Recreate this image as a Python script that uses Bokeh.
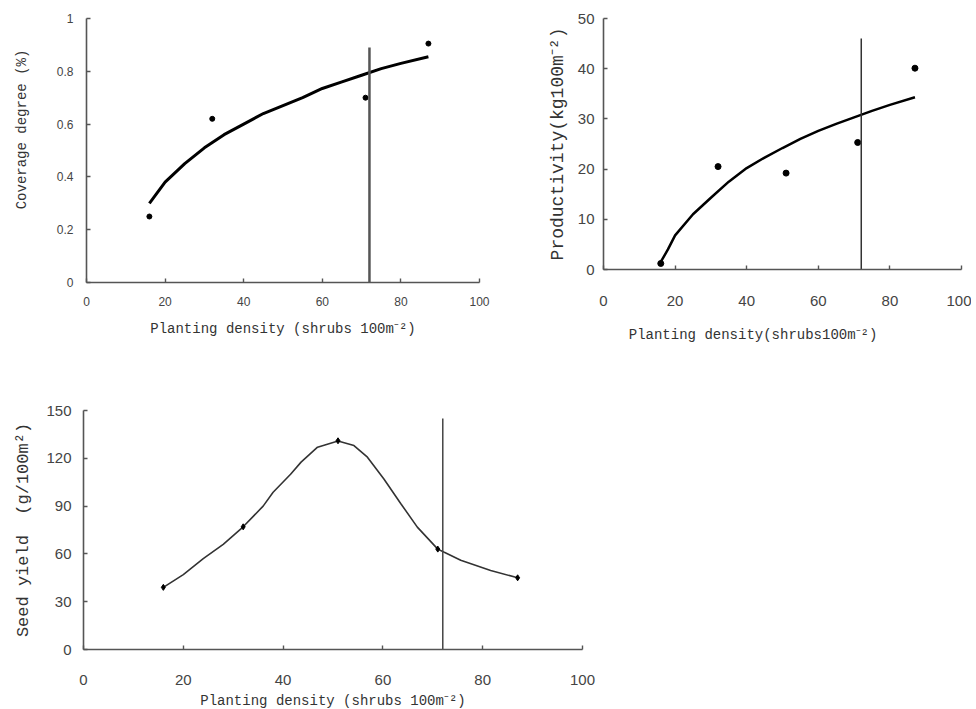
from bokeh.plotting import figure
from bokeh.layouts import row, column
from bokeh.models import Range1d, FixedTicker
from bokeh.embed import file_html
from bokeh.resources import INLINE

# ---------------- data ----------------
density_ticks = [0, 20, 40, 60, 80, 100]
optimum_density = 72

# Panel 1: coverage degree
cov_x = [16, 32, 71, 87]
cov_y = [0.25, 0.62, 0.70, 0.905]
cov_fit_x = [16, 20, 25, 30, 35, 40, 45, 50, 55, 60, 65, 70, 75, 80, 87]
cov_fit_y = [0.30, 0.38, 0.45, 0.51, 0.56, 0.60, 0.64, 0.67, 0.70, 0.735, 0.76, 0.785, 0.81, 0.83, 0.855]
cov_ticks = [0, 0.2, 0.4, 0.6, 0.8, 1]
cov_labels = {0: "0", 0.2: "0.2", 0.4: "0.4", 0.6: "0.6", 0.8: "0.8", 1: "1"}
cov_vline_top = 0.89

# Panel 2: productivity
prod_x = [16, 32, 51, 71, 87]
prod_y = [1.2, 20.5, 19.2, 25.3, 40.1]
prod_fit_x = [16, 18, 20, 25, 30, 35, 40, 45, 50, 55, 60, 65, 70, 75, 80, 87]
prod_fit_y = [1.5, 4.0, 6.8, 11.0, 14.3, 17.5, 20.2, 22.3, 24.2, 26.0, 27.6, 29.0, 30.3, 31.6, 32.8, 34.3]
prod_ticks = [0, 10, 20, 30, 40, 50]
prod_vline_top = 46

# Panel 3: seed yield
seed_x = [16, 32, 51, 71, 87]
seed_y = [39, 77, 131, 63, 45]
seed_curve_x = [16, 20, 24, 28, 32, 36, 38, 41.5, 43.6, 46.9, 51, 54.2, 56.9, 60.2, 63.6, 66.9, 71, 72.3, 75.6, 81.6, 87]
seed_curve_y = [39, 47, 57, 66, 77, 90, 98.7, 110, 117.6, 127, 130.8, 128, 120.7, 107, 91.5, 76.8, 63, 61, 56, 49.6, 45]
seed_ticks = [0, 30, 60, 90, 120, 150]
seed_vline_top = 145

NB = "\u00a0"
TICK_FONT = "Liberation Sans"
TITLE_FONT = "Liberation Mono"


def make_fig(fw, fh, borders, yrange, yticks, tick_size, xlab, ylab,
             xlab_size, ylab_size, x_std, x_lab_std, y_std, y_lab_std):
    l, r, t, b = borders
    p = figure(frame_width=fw, frame_height=fh, output_backend="svg",
               toolbar_location=None, x_range=Range1d(0, 100),
               y_range=Range1d(*yrange),
               min_border_left=l, min_border_right=r,
               min_border_top=t, min_border_bottom=b)
    p.outline_line_color = None
    p.grid.visible = False
    p.background_fill_color = "white"
    p.border_fill_color = "white"
    p.xaxis.ticker = FixedTicker(ticks=density_ticks)
    p.yaxis.ticker = FixedTicker(ticks=yticks)
    for ax in (p.xaxis, p.yaxis):
        ax.axis_line_color = "#555555"
        ax.axis_line_width = 1.6
        ax.major_tick_line_color = "#555555"
        ax.major_tick_line_width = 1.4
        ax.major_tick_in = 4
        ax.major_tick_out = 0
        ax.minor_tick_line_color = None
        ax.major_label_text_font = TICK_FONT
        ax.major_label_text_font_size = f"{tick_size}px"
        ax.major_label_text_color = "#444444"
        ax.axis_label_text_font = TITLE_FONT
        ax.axis_label_text_font_style = "normal"
        ax.axis_label_text_color = "#333333"
    p.xaxis.axis_label = xlab
    p.yaxis.axis_label = ylab
    p.xaxis.axis_label_text_font_size = f"{xlab_size}px"
    p.yaxis.axis_label_text_font_size = f"{ylab_size}px"
    p.xaxis.major_label_standoff = x_std
    p.xaxis.axis_label_standoff = x_lab_std
    p.yaxis.major_label_standoff = y_std
    p.yaxis.axis_label_standoff = y_lab_std
    return p


# Panel 1
p1 = make_fig(393, 264, (86, 25, 18, 78), (0, 1), cov_ticks, 12,
              "Planting density (shrubs 100m\u207b\u00b2)",
              NB * 5 + "Coverage degree (%)", 14, 14, 14, 12, 13, 24)
p1.yaxis.major_label_overrides = cov_labels
p1.line(cov_fit_x, cov_fit_y, line_color="black", line_width=3)
p1.scatter(cov_x, cov_y, size=5, color="black")
p1.segment(x0=[optimum_density], y0=[0], x1=[optimum_density], y1=[cov_vline_top],
           line_color="#555555", line_width=2.5)

# Panel 2
p2 = make_fig(358, 251, (99, 10, 18, 91), (0, 50), prod_ticks, 15,
              "Planting density(shrubs100m\u207b\u00b2)" + NB * 7,
              "Productivity(kg100m\u207b\u00b2)", 14, 18, 26, 18, 9, 7)
p2.line(prod_fit_x, prod_fit_y, line_color="black", line_width=2.5)
p2.scatter(prod_x, prod_y, size=6, color="black")
p2.segment(x0=[optimum_density], y0=[0], x1=[optimum_density], y1=[prod_vline_top],
           line_color="#333333", line_width=1.5)

# Panel 3
p3 = make_fig(499, 239, (83, 15, 50, 60), (0, 150), seed_ticks, 15,
              "Planting density (shrubs 100m\u207b\u00b2)",
              "Seed yield" + NB * 2 + "(g/100m\u00b2)", 14, 17, 25, 5, 12, 10)
p3.line(seed_curve_x, seed_curve_y, line_color="#333333", line_width=1.6)
p3.scatter(seed_x, seed_y, size=6, marker="diamond", color="black")
p3.segment(x0=[optimum_density], y0=[0], x1=[optimum_density], y1=[seed_vline_top],
           line_color="#444444", line_width=1.5)

layout = column(row(p1, p2), p3)
open("out.html", "w").write(file_html(layout, INLINE))
